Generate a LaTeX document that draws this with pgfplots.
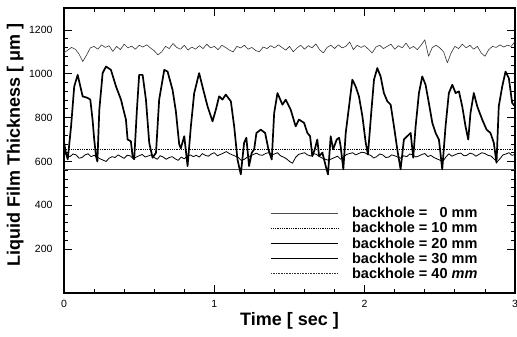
\documentclass[border=0pt]{standalone}
\usepackage{pgfplots}
\pgfplotsset{compat=1.18}
\usepackage{fontspec}
\setmainfont{Liberation Sans}
\begin{document}
\begin{tikzpicture}
\begin{axis}[
  scale only axis, width=451pt, height=285pt,
  xmin=0, xmax=3, ymin=0, ymax=1300,
  xtick={0,1,2,3}, ytick={200,400,600,800,1000,1200},
  minor x tick num=4, minor y tick num=4,
  major tick length=8pt, minor tick length=4pt,
  tick style={line width=0.8pt, black},
  axis line style={line width=1.2pt},
  /pgf/number format/assume math mode=true,
  /pgf/number format/1000 sep={},
  tick label style={font=\fontsize{10.5}{12}\selectfont},
  yticklabel style={xshift=-8pt},
  xticklabel style={yshift=-4pt},
  xlabel={Time [ sec ]},
  ylabel={Liquid Film Thickness [ μm ]},
  label style={font=\fontsize{18}{20}\bfseries},
  xlabel style={at={(axis description cs:0.5,-0.098)}, anchor=center},
  ylabel style={at={(axis description cs:-0.108,0.52)}, anchor=center},
  legend style={at={(0.455,0.312)}, anchor=north west, draw=none, fill=none,
    font=\fontsize{14.5}{15}\bfseries, row sep=-0.9pt, inner sep=1pt},
  legend cell align=left,
  legend image code/.code={\draw[#1] (0pt,0pt) -- (67pt,0pt); \path (78pt,0pt);},
]
% 0 mm
\addplot[black!70, line width=1.1pt, legend image post style={line width=0.8pt}] coordinates {(0,563) (3,563)};
\addlegendentry{backhole = \hphantom{0}0 mm}
% 10 mm
\addplot[black, line width=0.8pt, densely dotted] coordinates {(0,655) (3,655)};
\addlegendentry{backhole = 10 mm}
% 20 mm
\addplot[black, line width=0.8pt, line join=round] coordinates {
(0.00,640) (0.02,628) (0.04,622) (0.06,634) (0.08,630) (0.10,615) (0.12,618) (0.14,630) (0.16,635) (0.18,622) (0.20,628) (0.22,620) (0.24,612) (0.26,606) (0.28,600)
(0.30,615) (0.32,622) (0.34,618) (0.36,630) (0.38,622) (0.40,614) (0.42,628) (0.44,626) (0.46,612) (0.48,620) (0.50,626) (0.52,632) (0.54,620) (0.56,625) (0.58,630) (0.60,618)
(0.62,610) (0.64,626) (0.66,620) (0.68,610) (0.70,618) (0.72,622) (0.74,612) (0.76,605) (0.78,620) (0.80,612) (0.82,624) (0.84,630) (0.86,622) (0.88,628) (0.90,620) (0.92,636)
(0.94,628) (0.96,624) (0.98,634) (1.00,640) (1.02,626) (1.04,632) (1.06,638) (1.08,645) (1.10,636) (1.12,630) (1.14,624) (1.16,618) (1.18,604) (1.20,610) (1.22,620) (1.24,625)
(1.26,632) (1.28,638) (1.30,630) (1.32,628) (1.34,636) (1.36,640) (1.38,630) (1.40,634) (1.42,640) (1.44,626) (1.46,620) (1.48,612) (1.50,600) (1.52,592) (1.54,618) (1.56,632)
(1.58,636) (1.60,640) (1.62,630) (1.64,625) (1.66,636) (1.68,632) (1.70,622) (1.72,615) (1.74,610) (1.76,605) (1.78,612) (1.80,618) (1.82,624) (1.84,610) (1.86,622) (1.88,632)
(1.90,636) (1.92,640) (1.94,630) (1.96,636) (1.98,642) (2.00,640) (2.02,632) (2.04,628) (2.06,616) (2.08,622) (2.10,634) (2.12,630) (2.14,618) (2.16,620) (2.18,630) (2.20,626)
(2.22,620) (2.24,615) (2.26,626) (2.28,622) (2.30,634) (2.32,630) (2.34,620) (2.36,625) (2.38,632) (2.40,636) (2.42,622) (2.44,628) (2.46,618) (2.48,612) (2.50,606) (2.52,600)
(2.54,620) (2.56,635) (2.58,624) (2.60,630) (2.62,636) (2.64,638) (2.66,626) (2.68,628) (2.70,638) (2.72,634) (2.74,624) (2.76,632) (2.78,640) (2.80,636) (2.82,628) (2.84,625)
(2.86,612) (2.88,598) (2.90,612) (2.92,630) (2.94,634) (2.96,640) (2.98,628) (3.00,632)};
\addlegendentry{backhole = 20 mm}
% 30 mm
\addplot[black, line width=1.7pt, line join=round] coordinates {
(0.000,690) (0.012,640) (0.025,610) (0.047,760) (0.068,942) (0.091,995) (0.124,897)
(0.157,890) (0.175,882) (0.190,791) (0.201,700) (0.213,624) (0.222,600) (0.235,836)
(0.257,1003) (0.279,1033) (0.312,1018) (0.346,942) (0.379,882) (0.412,791) (0.423,700)
(0.445,692) (0.456,624) (0.467,610) (0.485,836) (0.500,995) (0.523,995) (0.545,882)
(0.567,685) (0.589,617) (0.612,640) (0.633,882) (0.667,1018) (0.689,1010) (0.722,927)
(0.744,830) (0.766,680) (0.777,660) (0.800,715) (0.822,579) (0.844,760) (0.866,912)
(0.899,1003) (0.921,942) (0.955,851) (0.988,783) (1.010,836) (1.032,897) (1.054,882)
(1.076,905) (1.110,874) (1.132,760) (1.154,609) (1.176,541) (1.198,685) (1.213,708)
(1.231,579) (1.249,640) (1.265,655) (1.280,730) (1.309,745) (1.338,730) (1.360,655)
(1.382,609) (1.398,821) (1.420,912) (1.453,859) (1.475,882) (1.508,836) (1.541,760)
(1.563,791) (1.597,776) (1.619,730) (1.637,715) (1.652,624) (1.668,655) (1.685,700)
(1.697,624) (1.719,640) (1.741,579) (1.756,541) (1.774,715) (1.790,655) (1.814,700)
(1.830,708) (1.840,670) (1.858,564) (1.874,730) (1.896,851) (1.918,973) (1.940,942)
(1.962,897) (1.985,806) (2.007,685) (2.022,632) (2.040,791) (2.062,973) (2.084,1026)
(2.106,988) (2.128,912) (2.151,874) (2.173,859) (2.195,760) (2.217,655) (2.239,564)
(2.261,700) (2.272,708) (2.306,730) (2.323,617) (2.339,760) (2.361,912) (2.383,988)
(2.405,950) (2.427,867) (2.450,776) (2.472,730) (2.494,700) (2.516,564) (2.538,760)
(2.560,912) (2.583,950) (2.605,912) (2.627,920) (2.649,851) (2.671,760) (2.689,700)
(2.704,821) (2.726,912) (2.749,851) (2.782,791) (2.811,745) (2.837,730) (2.859,685)
(2.877,594) (2.892,851) (2.915,942) (2.937,1010) (2.959,980) (2.981,867) (3.000,851)};
\addlegendentry{backhole = 30 mm}
% 40 mm
\addplot[black!80, line width=0.6pt, line join=round, legend image post style={densely dotted}] coordinates {
(0.000,1095) (0.025,1108) (0.050,1120) (0.075,1112) (0.100,1090) (0.125,1056) (0.150,1085)
(0.175,1118) (0.200,1125) (0.225,1112) (0.250,1132) (0.275,1120) (0.300,1128) (0.325,1102)
(0.350,1125) (0.375,1110) (0.400,1135) (0.425,1118) (0.450,1126) (0.475,1112) (0.500,1130)
(0.525,1122) (0.550,1132) (0.575,1118) (0.600,1105) (0.625,1086) (0.650,1100) (0.675,1125)
(0.700,1115) (0.725,1138) (0.750,1120) (0.775,1112) (0.800,1130) (0.825,1108) (0.850,1122)
(0.875,1112) (0.900,1128) (0.925,1115) (0.950,1135) (0.975,1118) (1.000,1125) (1.025,1110)
(1.050,1130) (1.075,1120) (1.100,1108) (1.125,1100) (1.150,1125) (1.175,1118) (1.200,1130)
(1.225,1112) (1.250,1120) (1.275,1106) (1.300,1100) (1.325,1122) (1.350,1115) (1.375,1128)
(1.400,1118) (1.425,1132) (1.450,1120) (1.475,1108) (1.500,1125) (1.525,1100) (1.550,1118)
(1.575,1130) (1.600,1112) (1.625,1128) (1.650,1118) (1.675,1136) (1.700,1110) (1.725,1095)
(1.750,1120) (1.775,1130) (1.800,1115) (1.825,1132) (1.850,1118) (1.875,1125) (1.900,1145)
(1.925,1110) (1.950,1130) (1.975,1120) (2.000,1128) (2.025,1112) (2.050,1095) (2.075,1122)
(2.100,1130) (2.125,1115) (2.150,1125) (2.175,1135) (2.200,1112) (2.225,1128) (2.250,1118)
(2.275,1140) (2.300,1115) (2.325,1125) (2.350,1110) (2.375,1130) (2.400,1155) (2.425,1080)
(2.450,1120) (2.475,1130) (2.500,1118) (2.525,1100) (2.550,1050) (2.575,1095) (2.600,1125)
(2.625,1115) (2.650,1135) (2.675,1118) (2.700,1130) (2.725,1112) (2.750,1125) (2.775,1095)
(2.800,1080) (2.825,1110) (2.850,1125) (2.875,1120) (2.900,1132) (2.925,1122) (2.950,1130)
(2.975,1125) (3.000,1148)};
\addlegendentry{backhole = 40 \textit{mm}}
\end{axis}
\pgfresetboundingbox
\path (current axis.south west) ++(-64pt,-44pt) coordinate (bbA);
\path (current axis.north east) ++(2pt,8pt) coordinate (bbB);
\useasboundingbox (bbA) rectangle (bbB);
\end{tikzpicture}
\end{document}
